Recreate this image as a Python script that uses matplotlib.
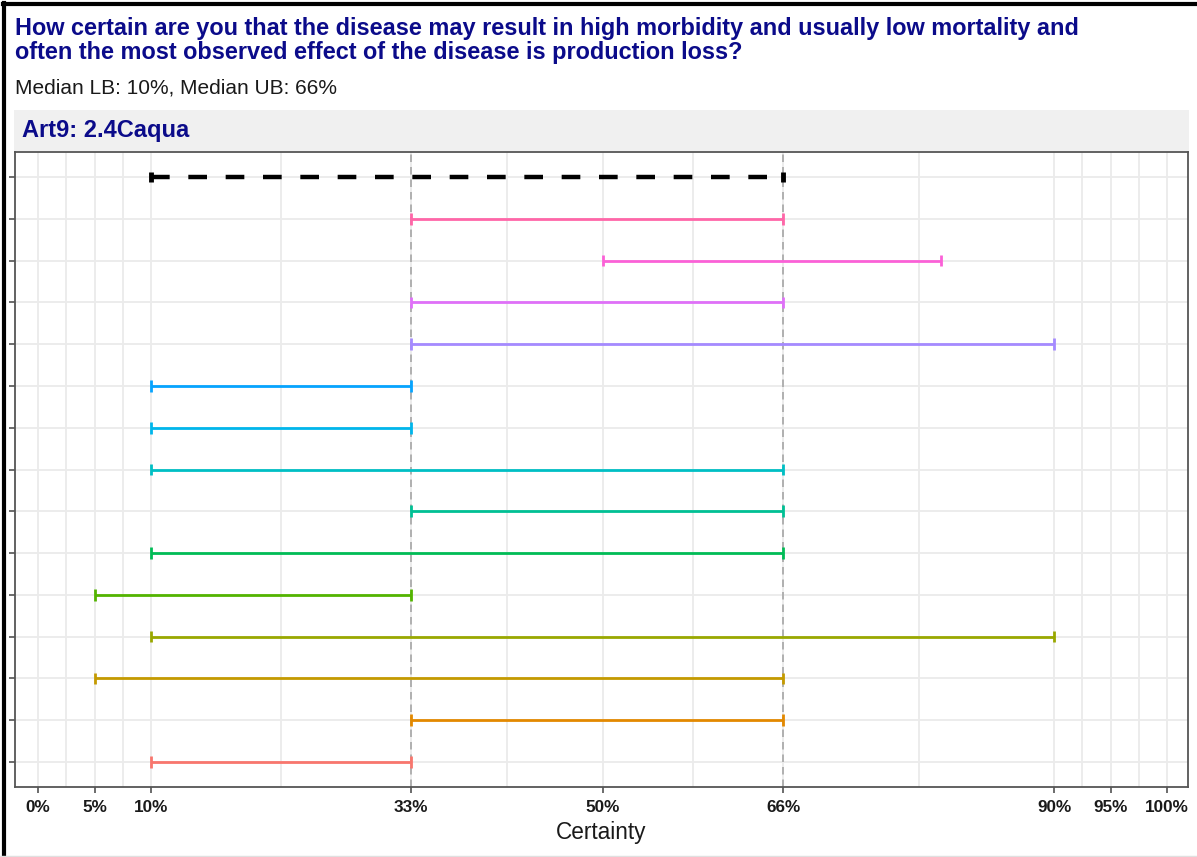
import matplotlib
matplotlib.use("Agg")
import matplotlib.pyplot as plt
from matplotlib.lines import Line2D

plt.rcParams['font.family'] = ['Liberation Sans', 'DejaVu Sans']

# ---- data ----
title_line1 = "How certain are you that the disease may result in high morbidity and usually low mortality and"
title_line2 = "often the most observed effect of the disease is production loss?"
subtitle = "Median LB: 10%, Median UB: 66%"
strip_label = "Art9: 2.4Caqua"

# rows from bottom (1) to top (14); row 15 is the median
lower = [10, 33, 5, 10, 5, 10, 33, 10, 10, 10, 33, 33, 50, 33]
upper = [33, 66, 66, 90, 33, 66, 66, 66, 33, 33, 90, 66, 80, 66]
colors = ["#F8766D", "#E38900", "#C49A00", "#99A800", "#53B400", "#00BC56", "#00C094",
          "#00BFC4", "#00B6EB", "#06A4FF", "#A58AFF", "#DF70F8", "#FB61D7", "#FF66A8"]
median_lb = 10
median_ub = 66
ref_lines = [33, 66]
major_breaks = [0, 5, 10, 33, 50, 66, 90, 95, 100]
major_labels = ["0%", "5%", "10%", "33%", "50%", "66%", "90%", "95%", "100%"]
x_label = "Certainty"

W, H = 1197, 857
fig = plt.figure(figsize=(W / 100, H / 100), dpi=100)

# panel
left, right = 15 / W, 1188 / W
bottom, top = 1 - 787 / H, 1 - 152 / H
ax = fig.add_axes([left, bottom, right - left, top - bottom])

n = len(lower)
rows = list(range(1, n + 2))
ax.set_xlim(-2.05, 101.85)
ax.set_ylim(0.4, n + 1 + 0.6)

# grid
minor = [(a + b) / 2 for a, b in zip(major_breaks[:-1], major_breaks[1:])]
for xv in major_breaks + minor:
    ax.axvline(xv, color="#EBEBEB", lw=1.3, zorder=0)
for r in rows:
    ax.axhline(r, color="#EBEBEB", lw=1.3, zorder=0)

# reference lines
for xv in ref_lines:
    ax.axvline(xv, color="#A6A6A6", lw=1.2, linestyle=(0, (4.5, 3)), zorder=1)

cap = 0.14
for i in range(n):
    y = i + 1
    ax.hlines(y, lower[i], upper[i], color=colors[i], lw=2.0, zorder=3)
    ax.vlines([lower[i], upper[i]], y - cap, y + cap, color=colors[i], lw=2.0, zorder=3)

ym = n + 1
ax.hlines(ym, median_lb, median_ub, color="black", lw=3.2, linestyle=(0, (4.2, 4.2)), zorder=4)
ax.vlines([median_lb, median_ub], ym - 0.12, ym + 0.12, color="black", lw=3.5, zorder=4)

ax.set_xticks(major_breaks)
ax.set_xticklabels(major_labels, fontsize=12.3, fontweight="bold", color="#1a1a1a")
ax.set_yticks(rows)
ax.set_yticklabels([])
ax.tick_params(axis="both", length=4, width=1.1, color="#444444")
ax.tick_params(axis="x", pad=5)
ax.set_xlabel(x_label, fontsize=16.3, color="#1a1a1a", labelpad=5)
for s in ax.spines.values():
    s.set_color("#555555")
    s.set_linewidth(1.3)

# strip
strip_ax = fig.add_axes([14 / W, 1 - 151 / H, (1189 - 14) / W, (151 - 110) / H])
strip_ax.set_facecolor("#F0F0F0")
strip_ax.set_xticks([]); strip_ax.set_yticks([])
for s in strip_ax.spines.values():
    s.set_visible(False)
strip_ax.text(8 / (1189 - 14), 0.5, strip_label, transform=strip_ax.transAxes,
              fontsize=17, fontweight="bold", color="#0B0B8A", va="center", ha="left")

# titles
fig.text(15 / W, 1 - 28 / H, title_line1, fontsize=16.95, fontweight="bold", color="#0B0B8A",
         va="center", ha="left")
fig.text(15 / W, 1 - 52 / H, title_line2, fontsize=16.95, fontweight="bold", color="#0B0B8A",
         va="center", ha="left")
fig.text(15 / W, 1 - 88 / H, subtitle, fontsize=15, color="#1a1a1a", va="center", ha="left")

# outer frame (left/top black, bottom light)
fig.add_artist(Line2D([4 / W, 4 / W], [0, 1 - 3 / H], transform=fig.transFigure, color="black", lw=3))
fig.add_artist(Line2D([3 / W, 1], [1 - 4 / H, 1 - 4 / H], transform=fig.transFigure, color="black", lw=3))
fig.add_artist(Line2D([0, 1], [1.5 / H, 1.5 / H], transform=fig.transFigure, color="#E0E0E0", lw=1))

fig.savefig("out.png", dpi=100)
